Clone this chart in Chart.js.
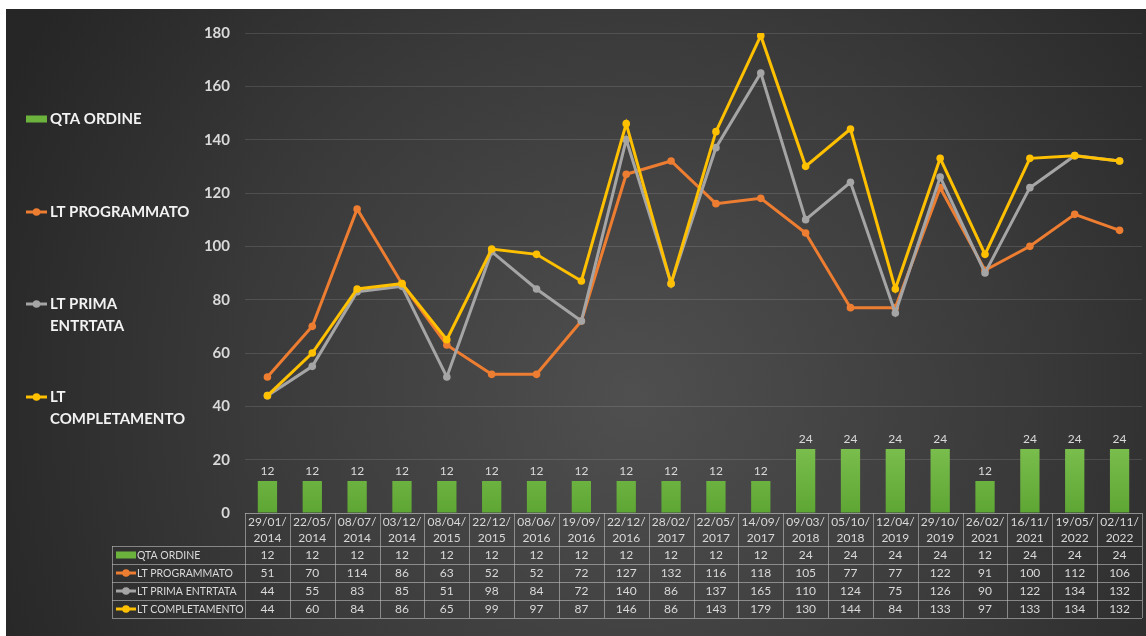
<!DOCTYPE html>
<html>
<head>
<meta charset="utf-8">
<script src="https://cdn.jsdelivr.net/npm/chart.js@4/dist/chart.umd.min.js"></script>
<style>
    body { margin: 0; background: #fff; width: 1146px; height: 636px; overflow: hidden; }
    #wrap {
        position: absolute; left: 6px; top: 9px; width: 1140px; height: 627px;
        background: radial-gradient(circle 700px at 55% 62%, #4f4f4f 0%, #3a3a3a 55%, #262626 100%);
    }
</style>
</head>
<body>
<div id="wrap"><canvas id="chart" width="1140" height="627"></canvas></div>
<script>
const dates = ["29/01/2014", "22/05/2014", "08/07/2014", "03/12/2014", "08/04/2015", "22/12/2015",
    "08/06/2016", "19/09/2016", "22/12/2016", "28/02/2017", "22/05/2017", "14/09/2017",
    "09/03/2018", "05/10/2018", "12/04/2019", "29/10/2019", "26/02/2021", "16/11/2021",
    "19/05/2022", "02/11/2022"];
const qtaOrdine = [12, 12, 12, 12, 12, 12, 12, 12, 12, 12, 12, 12, 24, 24, 24, 24, 12, 24, 24, 24];
const ltProgrammato = [51, 70, 114, 86, 63, 52, 52, 72, 127, 132, 116, 118, 105, 77, 77, 122, 91, 100, 112, 106];
const ltPrimaEntrata = [44, 55, 83, 85, 51, 98, 84, 72, 140, 86, 137, 165, 110, 124, 75, 126, 90, 122, 134, 132];
const ltCompletamento = [44, 60, 84, 86, 65, 99, 97, 87, 146, 86, 143, 179, 130, 144, 84, 133, 97, 133, 134, 132];
const yTicks = [0, 20, 40, 60, 80, 100, 120, 140, 160, 180];

const GREEN = "#6cb33e";
const ORANGE = "#ed7d31";
const GREY = "#a5a5a5";
const YELLOW = "#ffc000";
const FONT = "Lato, 'Open Sans', sans-serif";
const TEXT = "#d9d9d9";
const BORDER = "rgba(190,190,190,0.6)";

function barFill(ctx) {
    const area = ctx.chart.chartArea;
    if (!area) return GREEN;
    const g = ctx.chart.ctx.createLinearGradient(0, area.bottom - 70, 0, area.bottom);
    g.addColorStop(0, "#7cc04f");
    g.addColorStop(1, "#5ea634");
    return g;
}

// draws a legend key (bar rectangle or line with dot)
function drawKey(ctx, type, color, x, y, w) {
    ctx.save();
    if (type === "bar") {
        ctx.fillStyle = color;
        ctx.fillRect(x, y - 3.5, w, 7);
    } else {
        ctx.strokeStyle = color;
        ctx.lineWidth = 3;
        ctx.beginPath();
        ctx.moveTo(x, y);
        ctx.lineTo(x + w, y);
        ctx.stroke();
        ctx.fillStyle = color;
        ctx.beginPath();
        ctx.arc(x + w / 2, y, 3.8, 0, Math.PI * 2);
        ctx.fill();
    }
    ctx.restore();
}

const series = [
    { name: "QTA ORDINE", type: "bar", color: GREEN, values: qtaOrdine },
    { name: "LT PROGRAMMATO", type: "line", color: ORANGE, values: ltProgrammato },
    { name: "LT PRIMA ENTRTATA", type: "line", color: GREY, values: ltPrimaEntrata },
    { name: "LT COMPLETAMENTO", type: "line", color: YELLOW, values: ltCompletamento }
];

// left legend and data table below the plot
const extrasPlugin = {
    id: "extras",
    afterDatasetsDraw(chart) {
        const ctx = chart.ctx;
        const x = chart.scales.x;
        const area = chart.chartArea;

        // values over the bars
        const barMeta = chart.getDatasetMeta(0);
        ctx.save();
        ctx.font = "12px " + FONT;
        ctx.fillStyle = TEXT;
        ctx.textAlign = "center";
        ctx.textBaseline = "middle";
        barMeta.data.forEach((bar, i) => {
            ctx.fillText(String(qtaOrdine[i]), bar.x, bar.y - 10);
        });
        ctx.restore();

        // big legend on the left
        ctx.save();
        ctx.font = "bold 15px " + FONT;
        ctx.fillStyle = "#f2f2f2";
        ctx.textBaseline = "middle";
        const legendRows = [
            { s: series[0], lines: ["QTA ORDINE"], y: 110 },
            { s: series[1], lines: ["LT PROGRAMMATO"], y: 203 },
            { s: series[2], lines: ["LT PRIMA", "ENTRTATA"], y: 295 },
            { s: series[3], lines: ["LT", "COMPLETAMENTO"], y: 388 }
        ];
        legendRows.forEach(r => {
            drawKey(ctx, r.s.type, r.s.color, 20, r.y, 21);
            r.lines.forEach((t, k) => ctx.fillText(t, 44, r.y + k * 22));
        });
        ctx.restore();

        // table
        const headTop = area.bottom;
        const headH = 33;
        const rowH = 18;
        const rowsTop = headTop + headH;
        const tableBottom = rowsTop + rowH * series.length;
        const legLeft = 106;
        const colW = (area.right - area.left) / dates.length;

        ctx.save();
        ctx.strokeStyle = BORDER;
        ctx.lineWidth = 1;
        ctx.beginPath();
        ctx.moveTo(area.left, headTop + 0.5);
        ctx.lineTo(area.right, headTop + 0.5);
        for (let r = 0; r <= series.length; r++) {
            const yy = Math.round(rowsTop + r * rowH) + 0.5;
            ctx.moveTo(legLeft, yy);
            ctx.lineTo(area.right, yy);
        }
        for (let c = 0; c <= dates.length; c++) {
            const xx = Math.round(area.left + c * colW) + 0.5;
            ctx.moveTo(xx, headTop);
            ctx.lineTo(xx, tableBottom);
        }
        ctx.moveTo(legLeft + 0.5, rowsTop);
        ctx.lineTo(legLeft + 0.5, tableBottom);
        ctx.stroke();

        ctx.font = "12px " + FONT;
        ctx.fillStyle = TEXT;
        ctx.textAlign = "center";
        ctx.textBaseline = "middle";
        dates.forEach((d, i) => {
            const cx = x.getPixelForValue(i);
            ctx.fillText(d.slice(0, 6), cx, headTop + 9);
            ctx.fillText(d.slice(6), cx, headTop + 25);
            series.forEach((s, r) => {
                ctx.fillText(String(s.values[i]), cx, rowsTop + r * rowH + rowH / 2 + 0.5);
            });
        });

        ctx.font = "10.5px " + FONT;
        ctx.textAlign = "left";
        series.forEach((s, r) => {
            const cy = rowsTop + r * rowH + rowH / 2;
            drawKey(ctx, s.type, s.color, legLeft + 4, cy, 20);
            ctx.fillText(s.name, legLeft + 25, cy + 0.5);
        });
        ctx.restore();
    }
};

function lineSet(label, data, color, order) {
    return {
        type: "line",
        label: label,
        data: data,
        borderColor: color,
        backgroundColor: color,
        borderWidth: 3,
        pointRadius: 3.8,
        pointBorderWidth: 0,
        pointBackgroundColor: color,
        tension: 0,
        order: order
    };
}

new Chart(document.getElementById("chart"), {
    type: "bar",
    data: {
        labels: dates,
        datasets: [
            {
                label: "QTA ORDINE",
                data: qtaOrdine,
                backgroundColor: barFill,
                barPercentage: 0.86,
                categoryPercentage: 0.5,
                order: 4
            },
            lineSet("LT PROGRAMMATO", ltProgrammato, ORANGE, 3),
            lineSet("LT PRIMA ENTRTATA", ltPrimaEntrata, GREY, 2),
            lineSet("LT COMPLETAMENTO", ltCompletamento, YELLOW, 1)
        ]
    },
    options: {
        responsive: false,
        animation: false,
        devicePixelRatio: 1,
        layout: { padding: { top: 21, right: 3, bottom: 123, left: 0 } },
        plugins: {
            legend: { display: false },
            tooltip: { enabled: false }
        },
        scales: {
            x: { display: false, offset: true },
            y: {
                min: 0,
                max: 180,
                afterFit(scale) { scale.width = 239; },
                afterBuildTicks(scale) { scale.ticks = yTicks.map(v => ({ value: v })); },
                border: { display: false },
                grid: { color: "rgba(255,255,255,0.12)", drawTicks: false },
                ticks: {
                    padding: 15,
                    color: "#d9d9d9",
                    font: { family: FONT, size: 15, weight: "bold" }
                }
            }
        }
    },
    plugins: [extrasPlugin]
});
</script>
</body>
</html>
